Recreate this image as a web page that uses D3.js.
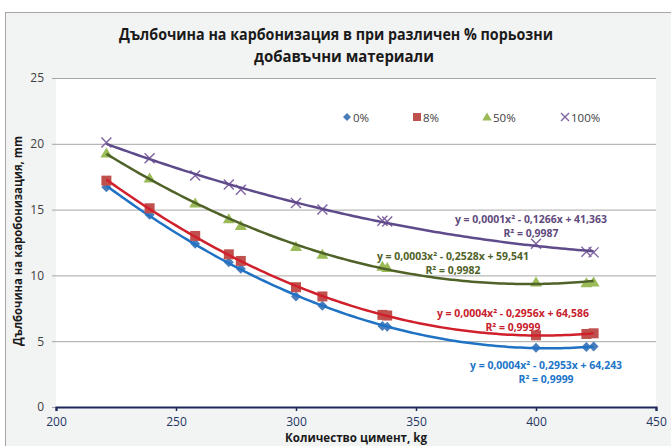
<!DOCTYPE html>
<html>
<head>
<meta charset="utf-8">
<script src="https://cdn.jsdelivr.net/npm/d3@7"></script>
<style>
  html, body { margin: 0; padding: 0; background: #ffffff; }
  svg { display: block; }
  text { font-family: "Open Sans", "Noto Sans", "DejaVu Sans", sans-serif; }
</style>
</head>
<body>
<svg id="chart" width="671" height="446"></svg>
<script>
// Cement content, kg (shared by all four series)
const cement = [221, 239, 258, 272, 277, 300, 311, 336, 338, 400, 421, 424];

// Carbonation depth, mm, for each share of porous additive
const depth0   = [16.7, 14.6, 12.4, 11.0, 10.5, 8.4, 7.7, 6.15, 6.1, 4.5, 4.55, 4.6];
const depth8   = [17.2, 15.1, 13.0, 11.6, 11.1, 9.1, 8.4, 7.0, 6.95, 5.45, 5.55, 5.6];
const depth50  = [19.3, 17.4, 15.5, 14.3, 13.8, 12.2, 11.6, 10.7, 10.6, 9.5, 9.45, 9.5];
const depth100 = [20.1, 18.9, 17.6, 16.9, 16.5, 15.5, 15.0, 14.15, 14.1, 12.4, 11.8, 11.75];

const seriesNames = ["0%", "8%", "50%", "100%"];

// Trendline equation labels as printed on the chart
const equations = [
  "y = 0,0004x\u00B2 - 0,2953x + 64,243",
  "y = 0,0004x\u00B2 - 0,2956x + 64,586",
  "y = 0,0003x\u00B2 - 0,2528x + 59,541",
  "y = 0,0001x\u00B2 - 0,1266x + 41,363"
];
const rSquared = ["R\u00B2 = 0,9999", "R\u00B2 = 0,9999", "R\u00B2 = 0,9982", "R\u00B2 = 0,9987"];

const xTicks = [200, 250, 300, 350, 400, 450];
const yTicks = [0, 5, 10, 15, 20, 25];

// Styling per series (lx, ly: centre of the equation label in data units)
const styles = [
  { marker: "diamond",  fill: "#4a7ebb", trend: "#1f72c4", label: "#2175c8", lx: 404.2, ly: 3.19 },
  { marker: "square",   fill: "#c0504d", trend: "#d0202c", label: "#c8202c", lx: 390.4, ly: 7.14 },
  { marker: "triangle", fill: "#9bbb59", trend: "#4f6228", label: "#4f6228", lx: 365.4, ly: 11.48 },
  { marker: "cross",    fill: "#8064a2", trend: "#5f4b8b", label: "#5f4a7d", lx: 397.9, ly: 14.29 }
];

const values = [depth0, depth8, depth50, depth100];
const series = seriesNames.map((name, i) => ({
  name,
  points: cement.map((x, j) => ({ x, y: values[i][j] })),
  style: styles[i],
  equation: equations[i],
  r2: rSquared[i]
}));

// Least-squares quadratic fit used for the trendlines
function quadFit(pts) {
  let n = pts.length, sx = 0, sx2 = 0, sx3 = 0, sx4 = 0, sy = 0, sxy = 0, sx2y = 0;
  pts.forEach(p => {
    const x = p.x, y = p.y, x2 = x * x;
    sx += x; sx2 += x2; sx3 += x2 * x; sx4 += x2 * x2;
    sy += y; sxy += x * y; sx2y += x2 * y;
  });
  const M = [[n, sx, sx2, sy], [sx, sx2, sx3, sxy], [sx2, sx3, sx4, sx2y]];
  for (let c = 0; c < 3; c++) {
    let piv = c;
    for (let r = c + 1; r < 3; r++) if (Math.abs(M[r][c]) > Math.abs(M[piv][c])) piv = r;
    [M[c], M[piv]] = [M[piv], M[c]];
    for (let r = 0; r < 3; r++) {
      if (r === c) continue;
      const f = M[r][c] / M[c][c];
      for (let k = c; k < 4; k++) M[r][k] -= f * M[c][k];
    }
  }
  const a0 = M[0][3] / M[0][0], a1 = M[1][3] / M[1][1], a2 = M[2][3] / M[2][2];
  return x => a0 + a1 * x + a2 * x * x;
}

const W = 671, H = 446;
const plot = { left: 56, right: 656, top: 78, bottom: 407 };

const svg = d3.select("#chart");

// Squeeze a text to a given width, giving a condensed look
function fit(sel, len) {
  return sel.attr("textLength", len).attr("lengthAdjust", "spacingAndGlyphs");
}

// Chart frame
svg.append("rect").attr("x", 0).attr("y", 0).attr("width", W).attr("height", H).attr("fill", "#ffffff");
svg.append("rect").attr("x", 5.5).attr("y", 12.5).attr("width", W).attr("height", H)
  .attr("fill", "#f2f3f3").attr("stroke", "#a6a6a6").attr("stroke-width", 1);

// Plot area
svg.append("rect")
  .attr("x", plot.left).attr("y", plot.top)
  .attr("width", plot.right - plot.left).attr("height", plot.bottom - plot.top)
  .attr("fill", "#ffffff");

const x = d3.scaleLinear().domain([200, 450]).range([plot.left, plot.right]);
const y = d3.scaleLinear().domain([0, 25]).range([plot.bottom, plot.top]);

// Title
const title = svg.append("text")
  .attr("text-anchor", "middle")
  .attr("font-size", 15.5).attr("font-weight", "bold").attr("fill", "#1a1a1a");
fit(title.append("tspan").attr("x", 336).attr("y", 40), 434).text("Дълбочина на карбонизация в при различен % порьозни");
fit(title.append("tspan").attr("x", 344).attr("y", 62), 180).text("добавъчни материали");

// Horizontal gridlines + y axis
const yAxis = d3.axisLeft(y).tickValues(yTicks).tickSize(-(plot.right - plot.left) - 4).tickPadding(8)
  .tickFormat(d3.format("d"));
const gy = svg.append("g").attr("transform", `translate(${plot.left - 4},0)`).call(yAxis);
gy.select(".domain").remove();
gy.selectAll(".tick line").attr("stroke", "#a6a6a6").attr("stroke-width", 1);
gy.selectAll(".tick text").attr("font-size", 12).attr("fill", "#404040");

// x axis
const xAxis = d3.axisBottom(x).tickValues(xTicks).tickSize(4).tickPadding(6).tickFormat(d3.format("d"));
const gx = svg.append("g").attr("transform", `translate(0,${plot.bottom})`).call(xAxis);
gx.select(".domain").attr("stroke", "#1f2a5c").attr("stroke-width", 2.2);
gx.selectAll(".tick line").attr("stroke", "#1f2a5c").attr("stroke-width", 1.5);
gx.selectAll(".tick text").attr("font-size", 12).attr("fill", "#1f3864");

// Axis titles
fit(svg.append("text")
  .attr("x", 356).attr("y", 442)
  .attr("text-anchor", "middle").attr("font-size", 12.5).attr("font-weight", "bold").attr("fill", "#1a1a1a"), 142)
  .text("Количество цимент, kg");
fit(svg.append("text")
  .attr("transform", `translate(22,${241}) rotate(-90)`)
  .attr("text-anchor", "middle").attr("font-size", 12).attr("font-weight", "bold").attr("fill", "#1a1a1a"), 210)
  .text("Дълбочина на каробонизация, mm");

// Marker drawing
function drawMarker(g, type, color, size) {
  const s = size / 2;
  if (type === "diamond") {
    g.append("path").attr("d", `M0,${-s}L${s},0L0,${s}L${-s},0Z`).attr("fill", color);
  } else if (type === "square") {
    g.append("rect").attr("x", -s).attr("y", -s).attr("width", size).attr("height", size)
      .attr("fill", color);
  } else if (type === "triangle") {
    g.append("path").attr("d", `M0,${-size * 0.55}L${size * 0.6},${size * 0.45}L${-size * 0.6},${size * 0.45}Z`).attr("fill", color);
  } else if (type === "cross") {
    g.append("path").attr("d", `M${-s},${-s}L${s},${s}M${-s},${s}L${s},${-s}`)
      .attr("stroke", color).attr("stroke-width", 1.4).attr("fill", "none");
  }
}

const sizes = { diamond: 10, square: 10, triangle: 10, cross: 10 };

series.forEach(s => {
  const f = quadFit(s.points);
  const xs = d3.extent(s.points, p => p.x);
  const samples = d3.range(xs[0], xs[1] + 0.01, (xs[1] - xs[0]) / 120);
  const g = svg.append("g");
  // markers
  s.points.forEach(p => {
    const m = g.append("g").attr("transform", `translate(${x(p.x)},${y(p.y)})`);
    drawMarker(m, s.style.marker, s.style.fill, sizes[s.style.marker]);
  });
  // polynomial trendline
  g.append("path")
    .datum(samples)
    .attr("d", d3.line().x(d => x(d)).y(d => y(f(d))))
    .attr("fill", "none").attr("stroke", s.style.trend).attr("stroke-width", 2.5);
  // equation + R²
  const lab = svg.append("text").attr("text-anchor", "middle")
    .attr("font-size", 10.5).attr("font-weight", "bold").attr("fill", s.style.label);
  fit(lab.append("tspan").attr("x", x(s.style.lx)).attr("y", y(s.style.ly) + 4), 152).text(s.equation);
  fit(lab.append("tspan").attr("x", x(s.style.lx)).attr("y", y(s.style.ly) + 18), 55).text(s.r2);
});

// Legend
const legend = svg.append("g");
series.forEach((s, i) => {
  const lx = [347, 417, 487, 565][i];
  const item = legend.append("g").attr("transform", `translate(${lx},117)`);
  drawMarker(item.append("g"), s.style.marker, s.style.fill, 8);
  item.append("text").attr("x", 6).attr("y", 4.5).attr("font-size", 11.5).attr("fill", "#404040").text(s.name);
});
</script>
</body>
</html>
